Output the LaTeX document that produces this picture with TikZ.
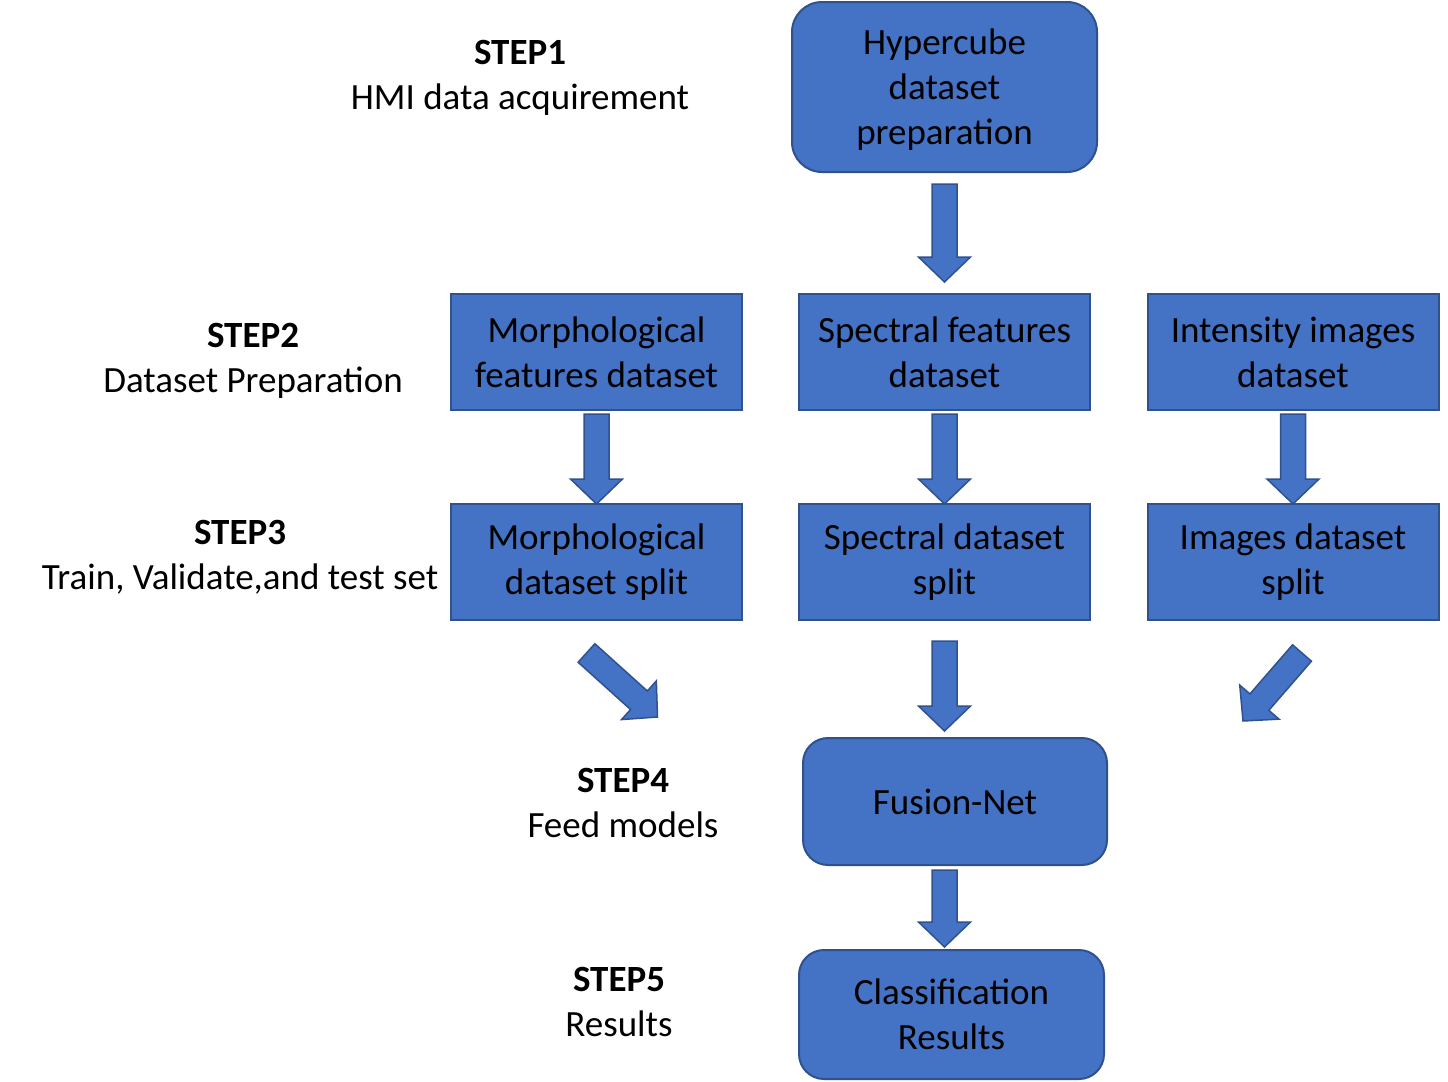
\documentclass[tikz,border=0pt]{standalone}
\usepackage{fontspec}
\setmainfont{Carlito}
\usetikzlibrary{calc}

\definecolor{boxblue}{HTML}{4472C4}
\definecolor{boxedge}{HTML}{2F528F}

% flecha de bloque: #1 cola, #2 punta
\newcommand{\blkarrow}[2]{%
  \coordinate (ah) at ($(#2)!12.5pt!(#1)$);
  \filldraw[arrowbody] ($(#1)!6.25pt!90:(#2)$) -- ($(ah)!6.25pt!90:(#2)$)
    -- ($(ah)!13pt!90:(#2)$) -- (#2) -- ($(ah)!13pt!-90:(#2)$)
    -- ($(ah)!6.25pt!-90:(#2)$) -- ($(#1)!6.25pt!-90:(#2)$) -- cycle;}

\begin{document}
\begin{tikzpicture}[x=0.5pt, y=-0.5pt,
    every node/.style={font=\fontsize{18.5}{22.5}\selectfont, align=center, inner sep=0pt},
    box/.style={draw=boxedge, fill=boxblue, line width=1pt, minimum width=145.5pt, minimum height=58pt},
    roundbox/.style={box, rounded corners=12.5pt},
    arrowbody/.style={draw=boxedge, fill=boxblue, line width=0.75pt}]
          \useasboundingbox (0,0) rectangle (1448,1082);

          % Pasos
          \node(step1) at (520,78) {\textbf{STEP1}\\HMI data acquirement};
          \node(step2) at (253,361) {\textbf{STEP2}\\Dataset Preparation};
          \node(step3) at (240,557) {\textbf{STEP3}\\Train, Validate,and test set};
          \node(step4) at (623,803) {\textbf{STEP4}\\Feed models};
          \node(step5) at (619,1002) {\textbf{STEP5}\\Results};

          % Cajas
          \node[roundbox, rounded corners=15pt, minimum width=152.5pt, minimum height=85pt](hyper) at (944.5,87) {\\[-6.7pt]Hypercube\\dataset\\preparation};
          \node[box](morphfeat) at (596.5,352) {Morphological\\features dataset};
          \node[box](specfeat) at (944.5,352) {Spectral features\\dataset};
          \node[box](intfeat) at (1293,352) {Intensity images\\dataset};
          \node[box](morphsplit) at (596.5,562) {Morphological\\dataset split};
          \node[box](specsplit) at (944.5,562) {Spectral dataset\\split};
          \node[box](imgsplit) at (1293,562) {Images dataset\\split};
          \node[roundbox, minimum width=152pt, minimum height=63.5pt](fusion) at (955,801.5) {Fusion-Net};
          \node[roundbox, minimum width=152.5pt, minimum height=64.5pt](classif) at (951.5,1014.5) {Classification\\Results};

          % Flechas
          \coordinate (a1s) at ($(hyper.south)+(0,11)$);
          \coordinate (a1t) at ($(specfeat.north)+(0,-11)$);
          \coordinate (a2s) at ($(morphfeat.south)+(0,3)$);
          \coordinate (a2t) at ($(morphsplit.north)+(0,1)$);
          \coordinate (a3s) at ($(specfeat.south)+(0,3)$);
          \coordinate (a3t) at ($(specsplit.north)+(0,1)$);
          \coordinate (a4s) at ($(intfeat.south)+(0,3)$);
          \coordinate (a4t) at ($(imgsplit.north)+(0,1)$);
          \coordinate (a5s) at ($(morphsplit.south)+(-10,32)$);
          \coordinate (a5t) at ($(morphsplit.south)+(61,96)$);
          \coordinate (a6s) at ($(specsplit.south)+(0,20)$);
          \coordinate (a6t) at ($(specsplit.south |- fusion.north)+(0,-6)$);
          \coordinate (a7s) at ($(imgsplit.south)+(9,32)$);
          \coordinate (a7t) at ($(imgsplit.south)+(-50,100)$);
          \coordinate (a8s) at ($(specsplit.south |- fusion.south)+(0,4)$);
          \coordinate (a8t) at ($(specsplit.south |- classif.north)+(0,-2)$);
          \blkarrow{a1s}{a1t}
          \blkarrow{a2s}{a2t}
          \blkarrow{a3s}{a3t}
          \blkarrow{a4s}{a4t}
          \blkarrow{a5s}{a5t}
          \blkarrow{a6s}{a6t}
          \blkarrow{a7s}{a7t}
          \blkarrow{a8s}{a8t}

        \end{tikzpicture}
\end{document}
